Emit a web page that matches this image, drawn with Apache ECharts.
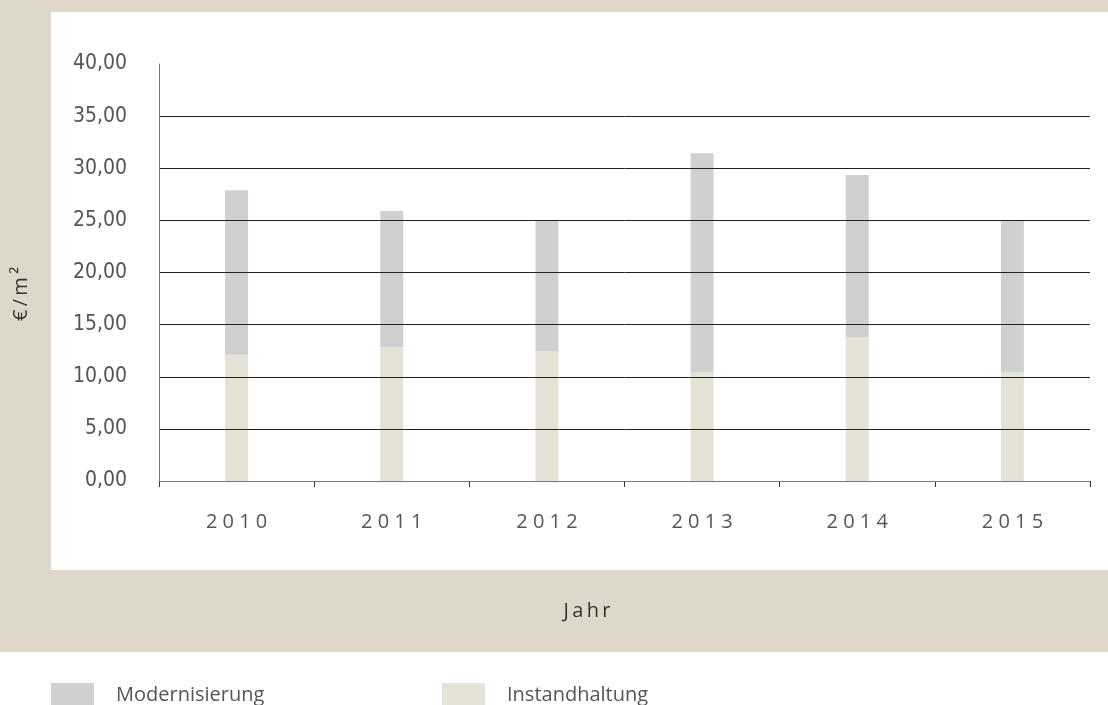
<!DOCTYPE html>
<html><head><meta charset="utf-8">
<script src="https://cdn.jsdelivr.net/npm/echarts@6/dist/echarts.min.js"></script>
<style>html,body{margin:0;padding:0;background:#fff}#c{width:1108px;height:705px}</style>
</head><body><div id="c"></div>
<script>
const categories = ['2010','2011','2012','2013','2014','2015'];
const instandhaltung = [12.1, 12.85, 12.45, 10.45, 13.8, 10.45];
const modernisierung = [15.8, 13.05, 12.55, 21.0, 15.55, 14.55];
const yTicks = [0,5,10,15,20,25,30,35,40];

const spaced = (s, sep) => s.split('').join(sep);
const chart = echarts.init(document.getElementById('c'));
const gridColors = yTicks.map((v,i)=> i===0 ? '#777' : (i===yTicks.length-1 ? 'rgba(0,0,0,0)' : '#222'));
chart.setOption({
  animation:false,
  backgroundColor:'#fff',
  graphic:[
    {type:'rect', z:-10, shape:{x:0,y:0,width:1108,height:652}, style:{fill:'#dfd7ca'}},
    {type:'rect', z:-9, shape:{x:51,y:12,width:1057,height:558}, style:{fill:'#fff'}},
    {type:'text', position:[21,294], rotation:Math.PI/2, style:{text:spaced('€/m²','\u2009'), font:'20px "Open Sans"', fill:'#333', textAlign:'center', textVerticalAlign:'middle'}},
    {type:'text', position:[587,611], style:{text:spaced('Jahr','\u2009'), font:'20px "Open Sans"', fill:'#333', textAlign:'center', textVerticalAlign:'middle'}}
  ],
  legend:[
    {left:51, top:683, padding:0, itemWidth:43, itemHeight:24, icon:'rect', data:['Modernisierung'], textStyle:{fontFamily:'Open Sans', fontSize:20, color:'#555', padding:[0,0,0,17]}},
    {left:442, top:683, padding:0, itemWidth:43, itemHeight:24, icon:'rect', data:['Instandhaltung'], textStyle:{fontFamily:'Open Sans', fontSize:20, color:'#555', padding:[0,0,0,17]}}
  ],
  grid:{left:159, right:18, top:64, bottom:224},
  xAxis:{type:'category', data:categories,
    axisLine:{lineStyle:{color:'#777', width:1}},
    axisTick:{show:true, interval:0, length:6, lineStyle:{color:'#333'}},
    axisLabel:{margin:31, fontFamily:'Open Sans', fontSize:20, color:'#555', formatter:v=>spaced(v,' ')}
  },
  yAxis:{type:'value', min:0, max:40, interval:5, z:3,
    axisLine:{show:true, lineStyle:{color:'#777', width:1}},
    axisTick:{show:false},
    splitLine:{show:true, lineStyle:{color:gridColors, width:1}},
    axisLabel:{margin:32, fontFamily:'"DejaVu Sans Condensed", "DejaVu Sans"', fontSize:21, color:'#555', formatter:v=>v.toFixed(2).replace('.',',')}
  },
  series:[
    {name:'Instandhaltung', type:'bar', stack:'a', barWidth:23, data:instandhaltung, itemStyle:{color:'#e5e2d6'}},
    {name:'Modernisierung', type:'bar', stack:'a', barWidth:23, data:modernisierung, itemStyle:{color:'#cfd1d0'}}
  ]
});
</script></body></html>
